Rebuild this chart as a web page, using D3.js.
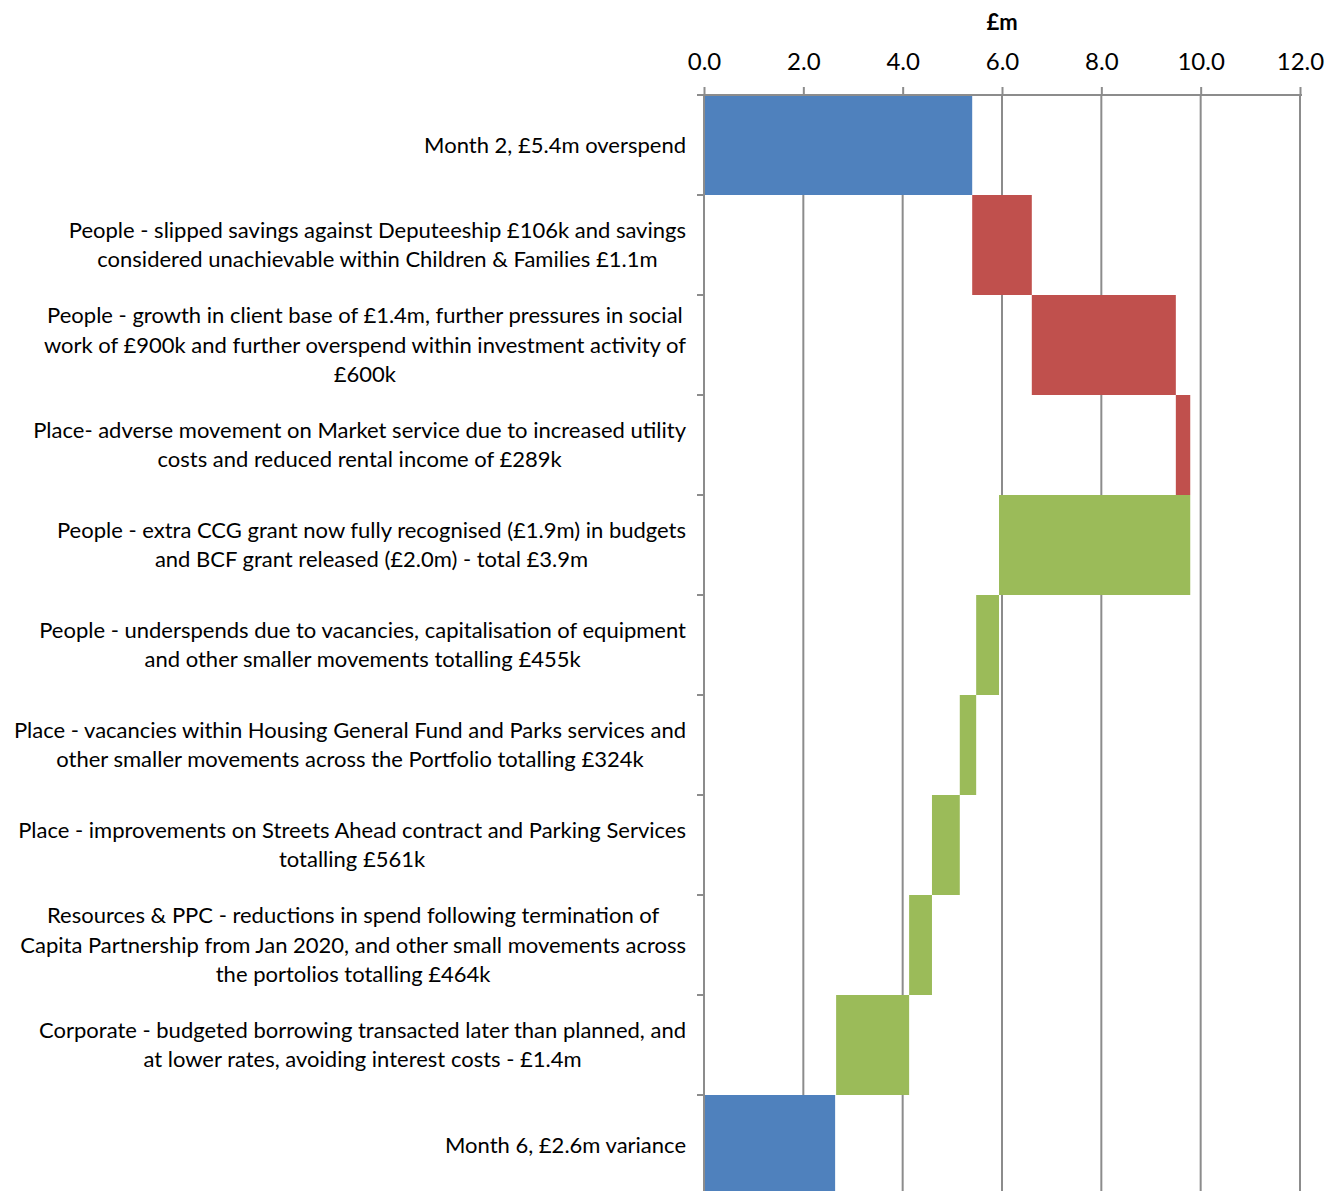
<!DOCTYPE html>
<html>
<head>
<meta charset="utf-8">
<script src="https://cdn.jsdelivr.net/npm/d3@7"></script>
<style>
  body { margin: 0; background: #fff; }
  text { font-family: Lato, "Open Sans", sans-serif; fill: #000; }
</style>
</head>
<body>
<div id="chart"></div>
<script>
// category labels (one array of lines per row)
var labels = [
  ["Month 2, £5.4m overspend"],
  ["People - slipped savings against Deputeeship £106k and savings", "considered unachievable within Children & Families £1.1m"],
  ["People - growth in client base of £1.4m, further pressures in social", "work of £900k and further overspend within investment activity of", "£600k"],
  ["Place- adverse movement on Market service due to increased utility", "costs and reduced rental income of £289k"],
  ["People - extra CCG grant now fully recognised (£1.9m) in budgets", "and BCF grant released (£2.0m) - total £3.9m"],
  ["People - underspends due to vacancies, capitalisation of equipment", "and other smaller movements totalling £455k"],
  ["Place - vacancies within Housing General Fund and Parks services and", "other smaller movements across the Portfolio totalling £324k"],
  ["Place - improvements on Streets Ahead contract and Parking Services", "totalling £561k"],
  ["Resources & PPC - reductions in spend following termination of", "Capita Partnership from Jan 2020, and other small movements across", "the portolios totalling £464k"],
  ["Corporate - budgeted borrowing transacted later than planned, and", "at lower rates, avoiding interest costs - £1.4m"],
  ["Month 6, £2.6m variance"]
];
// bar start and end in £m
var barStart = [0, 5.4, 6.6, 9.5, 9.79, 5.94, 5.48, 5.15, 4.59, 4.13, 0];
var barEnd   = [5.4, 6.6, 9.5, 9.79, 5.94, 5.48, 5.15, 4.59, 4.13, 2.66, 2.64];
var barType  = ["total", "up", "up", "up", "down", "down", "down", "down", "down", "down", "total"];
var xTicks = [0, 2, 4, 6, 8, 10, 12];

var colors = { total: "#4F81BD", up: "#C0504D", down: "#9BBB59" };

var W = 1327, H = 1191;
var plotL = 704, plotR = 1300, plotT = 95, rowH = 100;

var svg = d3.select("#chart").append("svg")
  .attr("width", W).attr("height", H);

var x = d3.scaleLinear().domain([0, 12]).range([plotL, plotR]);
var y = d3.scaleBand().domain(d3.range(labels.length))
  .range([plotT, plotT + rowH * labels.length]).padding(0);

// gridlines
svg.append("g").selectAll("line").data(xTicks.slice(1)).join("line")
  .attr("x1", d => x(d)).attr("x2", d => x(d))
  .attr("y1", plotT).attr("y2", H)
  .attr("stroke", "#8c8c8c").attr("stroke-width", 2);

// bars
svg.append("g").selectAll("rect").data(barStart).join("rect")
  .attr("x", (d, i) => x(Math.min(d, barEnd[i])))
  .attr("width", (d, i) => Math.abs(x(barEnd[i]) - x(d)))
  .attr("y", (d, i) => y(i))
  .attr("height", y.bandwidth())
  .attr("fill", (d, i) => colors[barType[i]]);

// top axis
var xAxis = d3.axisTop(x).tickValues(xTicks).tickFormat(d3.format(".1f"))
  .tickSize(8).tickSizeOuter(0).tickPadding(17);
var ax = svg.append("g").attr("transform", "translate(0," + plotT + ")").call(xAxis);
ax.select(".domain").attr("stroke", "#8c8c8c").attr("stroke-width", 2)
  .attr("d", "M" + (plotL - 7) + ",0H" + (plotR + 2));
ax.selectAll(".tick line").attr("stroke", "#8c8c8c").attr("stroke-width", 2);
ax.selectAll(".tick text").style("font-size", "24px")
  .style("font-family", "Lato, 'Open Sans', sans-serif").attr("fill", "#000");

svg.append("text").attr("x", x(6)).attr("y", 30)
  .attr("text-anchor", "middle").style("font-size", "22px").style("font-weight", "bold")
  .text("£m");

// left axis (category)
svg.append("line").attr("x1", plotL).attr("x2", plotL)
  .attr("y1", plotT).attr("y2", H)
  .attr("stroke", "#8c8c8c").attr("stroke-width", 2);
svg.append("g").selectAll("line").data(d3.range(labels.length + 1)).join("line")
  .attr("x1", plotL - 7).attr("x2", plotL)
  .attr("y1", d => plotT + d * rowH).attr("y2", d => plotT + d * rowH)
  .attr("stroke", "#8c8c8c").attr("stroke-width", 2);

// labels
var lineH = 29.5;
labels.forEach(function(lines, i) {
  var g = svg.append("g");
  var cy = y(i) + y.bandwidth() / 2;
  var texts = lines.map(function(t, j) {
    return g.append("text")
      .attr("y", cy + (j - (lines.length - 1) / 2) * lineH)
      .attr("dy", "0.35em")
      .attr("text-anchor", "middle")
      .style("font-size", "22px")
      .text(t);
  });
  var maxW = d3.max(texts, t => t.node().getComputedTextLength());
  texts.forEach(t => t.attr("x", 686 - maxW / 2));
});
</script>
</body>
</html>
